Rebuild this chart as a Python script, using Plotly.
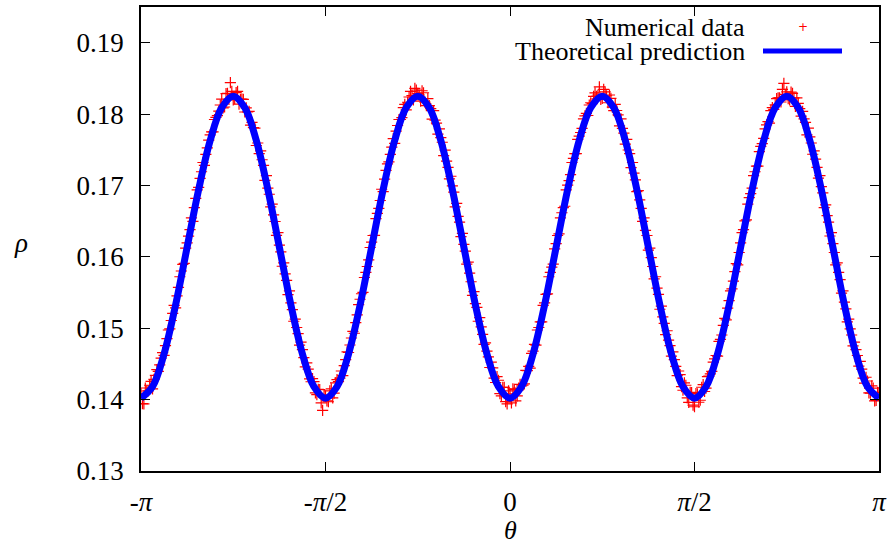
import numpy as np
import plotly.graph_objects as go

# Numerical data, set A: rho on a regular theta grid from -pi to pi (257 samples)
rho_data = [
    0.14080, 0.13940, 0.14121, 0.14201, 0.14151, 0.14340, 0.14396, 0.14580, 0.14620, 0.14853,
    0.14990, 0.15208, 0.15286, 0.15571, 0.15802, 0.15908, 0.16195, 0.16382, 0.16498, 0.16819,
    0.16974, 0.17192, 0.17280, 0.17527, 0.17710, 0.17750, 0.17954, 0.18040, 0.18209, 0.18099,
    0.18289, 0.18440, 0.18200, 0.18300, 0.18139, 0.18209, 0.18029, 0.18030, 0.17844, 0.17810,
    0.17560, 0.17447, 0.17360, 0.17072, 0.16964, 0.16699, 0.16588, 0.16302, 0.16165, 0.15868,
    0.15762, 0.15471, 0.15356, 0.15098, 0.15010, 0.14763, 0.14700, 0.14460, 0.14426, 0.14250,
    0.14251, 0.14071, 0.14141, 0.13850, 0.14050,
    0.13970, 0.14151, 0.14091, 0.14281, 0.14300, 0.14336, 0.14560, 0.14660, 0.14863, 0.14930,
    0.15188, 0.15406, 0.15501, 0.15782, 0.15958, 0.16205, 0.16302, 0.16608, 0.16789, 0.16914,
    0.17212, 0.17330, 0.17537, 0.17590, 0.17840, 0.17924, 0.18090, 0.18059, 0.18239, 0.18259,
    0.18360, 0.18290, 0.18180, 0.18299, 0.18119, 0.18119, 0.17930, 0.17914, 0.17720, 0.17670,
    0.17417, 0.17340, 0.17092, 0.16994, 0.16699, 0.16568, 0.16282, 0.16175, 0.15898, 0.15772,
    0.15461, 0.15346, 0.15098, 0.15020, 0.14773, 0.14680, 0.14450, 0.14446, 0.14240, 0.14271,
    0.14051, 0.14171, 0.13940, 0.14080,
    0.14150, 0.13981, 0.14161, 0.14191, 0.14220, 0.14406, 0.14440, 0.14680, 0.14763, 0.15010,
    0.15088, 0.15356, 0.15481, 0.15782, 0.15898, 0.16185, 0.16322, 0.16618, 0.16709, 0.17004,
    0.17152, 0.17380, 0.17447, 0.17690, 0.17800, 0.17974, 0.17980, 0.18159, 0.18249, 0.18249,
    0.18380, 0.18220, 0.18310, 0.18159, 0.18219, 0.18049, 0.18050, 0.17834, 0.17800, 0.17580,
    0.17497, 0.17250, 0.17172, 0.16914, 0.16799, 0.16498, 0.16372, 0.16095, 0.15988, 0.15692,
    0.15561, 0.15266, 0.15158, 0.14910, 0.14833, 0.14610, 0.14560, 0.14336, 0.14350, 0.14131,
    0.14201, 0.13961, 0.14100, 0.13900,
    0.14080, 0.13991, 0.14211, 0.14161, 0.14330, 0.14396, 0.14570, 0.14610, 0.14843, 0.15040,
    0.15118, 0.15386, 0.15551, 0.15792, 0.15888, 0.16195, 0.16382, 0.16518, 0.16829, 0.16964,
    0.17192, 0.17270, 0.17547, 0.17660, 0.17850, 0.17874, 0.18090, 0.18129, 0.18229, 0.18169,
    0.18430, 0.18310, 0.18200, 0.18289, 0.18109, 0.18149, 0.17970, 0.17934, 0.17710, 0.17680,
    0.17437, 0.17370, 0.17102, 0.16984, 0.16689, 0.16578, 0.16292, 0.16185, 0.15888, 0.15782,
    0.15491, 0.15366, 0.15088, 0.14990, 0.14753, 0.14700, 0.14470, 0.14426, 0.14230, 0.14261,
    0.14091, 0.14161, 0.13990, 0.14100,
]

# Numerical data, set B: rho at the midpoints of the same grid (256 samples)
rho_data_b = [
    0.13943, 0.14163, 0.14123, 0.14255, 0.14283, 0.14421, 0.14486, 0.14658, 0.14755, 0.14975,
    0.15108, 0.15321, 0.15453, 0.15721, 0.15895, 0.16121, 0.16289, 0.16545, 0.16689, 0.16937,
    0.17099, 0.17322, 0.17435, 0.17635, 0.17752, 0.17924, 0.17979, 0.18127, 0.18086, 0.18287,
    0.18207, 0.18317, 0.18217, 0.18317, 0.18207, 0.18206, 0.18087, 0.18039, 0.17884, 0.17802,
    0.17595, 0.17485, 0.17282, 0.17139, 0.16877, 0.16739, 0.16495, 0.16339, 0.16071, 0.15915,
    0.15671, 0.15523, 0.15261, 0.15128, 0.14925, 0.14805, 0.14588, 0.14516, 0.14291, 0.14293,
    0.14094, 0.14143, 0.13953, 0.14063,
    0.13983, 0.14123, 0.14023, 0.14234, 0.14253, 0.14401, 0.14476, 0.14668, 0.14765, 0.14955,
    0.15078, 0.15331, 0.15483, 0.15711, 0.15865, 0.16131, 0.16299, 0.16535, 0.16679, 0.16947,
    0.17089, 0.17302, 0.17435, 0.17655, 0.17762, 0.17924, 0.17951, 0.18137, 0.18166, 0.18317,
    0.18197, 0.18337, 0.18267, 0.18327, 0.18167, 0.18216, 0.18077, 0.18049, 0.17874, 0.17792,
    0.17605, 0.17495, 0.17252, 0.17129, 0.16907, 0.16749, 0.16485, 0.16329, 0.16081, 0.15925,
    0.15651, 0.15513, 0.15291, 0.15148, 0.14915, 0.14795, 0.14598, 0.14526, 0.14301, 0.14323,
    0.14084, 0.14173, 0.13973, 0.14123,
    0.13953, 0.14143, 0.14053, 0.14214, 0.14203, 0.14411, 0.14466, 0.14648, 0.14775, 0.14975,
    0.15088, 0.15321, 0.15473, 0.15721, 0.15855, 0.16111, 0.16299, 0.16545, 0.16689, 0.16937,
    0.17069, 0.17322, 0.17445, 0.17645, 0.17742, 0.17934, 0.18009, 0.18127, 0.18146, 0.18297,
    0.18267, 0.18207, 0.18347, 0.18257, 0.18267, 0.18096, 0.18137, 0.17989, 0.17934, 0.17732,
    0.17645, 0.17445, 0.17322, 0.17079, 0.16927, 0.16679, 0.16545, 0.16299, 0.16121, 0.15865,
    0.15721, 0.15473, 0.15311, 0.15068, 0.14965, 0.14755, 0.14668, 0.14466, 0.14401, 0.14183,
    0.14234, 0.14023, 0.14103, 0.13923,
    0.14083, 0.13963, 0.14173, 0.14114, 0.14323, 0.14361, 0.14526, 0.14618, 0.14815, 0.14905,
    0.15138, 0.15281, 0.15523, 0.15661, 0.15905, 0.16061, 0.16339, 0.16505, 0.16739, 0.16887,
    0.17139, 0.17272, 0.17475, 0.17585, 0.17792, 0.17894, 0.18049, 0.18067, 0.18216, 0.18227,
    0.18347, 0.18277, 0.18217, 0.18307, 0.18227, 0.18226, 0.18077, 0.18039, 0.17884, 0.17802,
    0.17595, 0.17485, 0.17252, 0.17139, 0.16897, 0.16729, 0.16485, 0.16339, 0.16061, 0.15915,
    0.15681, 0.15523, 0.15271, 0.15128, 0.14905, 0.14805, 0.14618, 0.14536, 0.14301, 0.14313,
    0.14094, 0.14193, 0.13983, 0.14103,
]

# Theoretical prediction: rho on a regular theta grid from -pi to pi (65 samples)
rho_theory = [
    0.14020, 0.14181, 0.14640, 0.15326, 0.16135, 0.16944, 0.17630, 0.18089,
    0.18250, 0.18089, 0.17630, 0.16944, 0.16135, 0.15326, 0.14640, 0.14181,
    0.14020, 0.14181, 0.14640, 0.15326, 0.16135, 0.16944, 0.17630, 0.18089,
    0.18250, 0.18089, 0.17630, 0.16944, 0.16135, 0.15326, 0.14640, 0.14181,
    0.14020, 0.14181, 0.14640, 0.15326, 0.16135, 0.16944, 0.17630, 0.18089,
    0.18250, 0.18089, 0.17630, 0.16944, 0.16135, 0.15326, 0.14640, 0.14181,
    0.14020, 0.14181, 0.14640, 0.15326, 0.16135, 0.16944, 0.17630, 0.18089,
    0.18250, 0.18089, 0.17630, 0.16944, 0.16135, 0.15326, 0.14640, 0.14181,
    0.14020,
]

x_tick_vals = [-np.pi, -np.pi / 2, 0, np.pi / 2, np.pi]
x_tick_text = ["-<i>π</i>", "-<i>π</i>/2", "0", "<i>π</i>/2", "<i>π</i>"]
y_tick_vals = [0.13, 0.14, 0.15, 0.16, 0.17, 0.18, 0.19]

n_a = len(rho_data)
n_b = len(rho_data_b)
step = 2 * np.pi / (n_a - 1)
theta_data = np.linspace(-np.pi, np.pi, n_a)
theta_data_b = np.linspace(-np.pi + step / 2, np.pi - step / 2, n_b)
theta_theory = np.linspace(-np.pi, np.pi, len(rho_theory))

FONT = "Liberation Serif, Times New Roman, serif"

marker_style = dict(symbol="cross-thin-open", size=8, color="red",
                    line=dict(color="red", width=1.2))

fig = go.Figure()
fig.add_trace(go.Scatter(
    x=np.concatenate([theta_data, theta_data_b]),
    y=list(rho_data) + list(rho_data_b),
    mode="markers", name="Numerical data",
    marker=marker_style, showlegend=False,
))
fig.add_trace(go.Scatter(
    x=theta_theory, y=rho_theory, mode="lines", name="Theoretical prediction",
    line=dict(color="#0000ff", width=7, shape="spline"),
    showlegend=False,
))

# Plot-area geometry (pixels)
PL, PR, PT, PB = 141, 879, 7, 471
W, H = PR - PL, PB - PT


def px(x):
    return (x - PL) / W


def py(y):
    return (PB - y) / H


# Legend (gnuplot style: text right-aligned, sample on the right)
fig.add_annotation(xref="paper", yref="paper", x=px(746), y=py(27),
                   text="Numerical data", showarrow=False, xanchor="right", yanchor="middle",
                   borderpad=0,
                   font=dict(family=FONT, size=26, color="black"))
fig.add_annotation(xref="paper", yref="paper", x=px(746), y=py(51),
                   text="Theoretical prediction", showarrow=False, xanchor="right", yanchor="middle",
                   borderpad=0,
                   font=dict(family=FONT, size=26, color="black"))
fig.add_annotation(xref="paper", yref="paper", x=px(803), y=py(27),
                   text="+", showarrow=False, xanchor="center", yanchor="middle",
                   font=dict(family="DejaVu Sans", size=12, color="red"))
fig.add_shape(type="line", xref="paper", yref="paper",
              x0=px(763), x1=px(842), y0=py(51), y1=py(51),
              line=dict(color="#0000ff", width=5))

# Axis labels
fig.add_annotation(xref="paper", yref="paper", x=px(21), y=py(243),
                   text="<i>ρ</i>", showarrow=False, xanchor="center", yanchor="middle",
                   font=dict(family=FONT, size=27, color="black"))
fig.add_annotation(xref="paper", yref="paper", x=px(510), y=py(530),
                   text="<i>θ</i>", showarrow=False, xanchor="center", yanchor="middle",
                   borderpad=0,
                   font=dict(family=FONT, size=26, color="black"))

axis_common = dict(
    showgrid=False, zeroline=False, showline=True, linecolor="black", linewidth=1.5,
    mirror="ticks", ticks="inside", ticklen=9, tickwidth=1, tickcolor="black",
    tickfont=dict(family=FONT, size=27, color="black"), automargin=False,
)

fig.update_xaxes(range=[-np.pi, np.pi], tickvals=x_tick_vals, ticktext=x_tick_text,
                 ticklabelstandoff=6, **axis_common)
fig.update_yaxes(range=[0.13, 0.195], tickvals=y_tick_vals, tickformat=".2f",
                 ticklabelstandoff=10, **axis_common)

fig.update_layout(
    width=891, height=545,
    margin=dict(l=PL, r=891 - PR, t=PT, b=545 - PB),
    paper_bgcolor="white", plot_bgcolor="white",
)

fig.write_html("out.html", config={"displayModeBar": False},
               post_script="document.body.style.margin='0px';document.body.style.padding='0px';")
